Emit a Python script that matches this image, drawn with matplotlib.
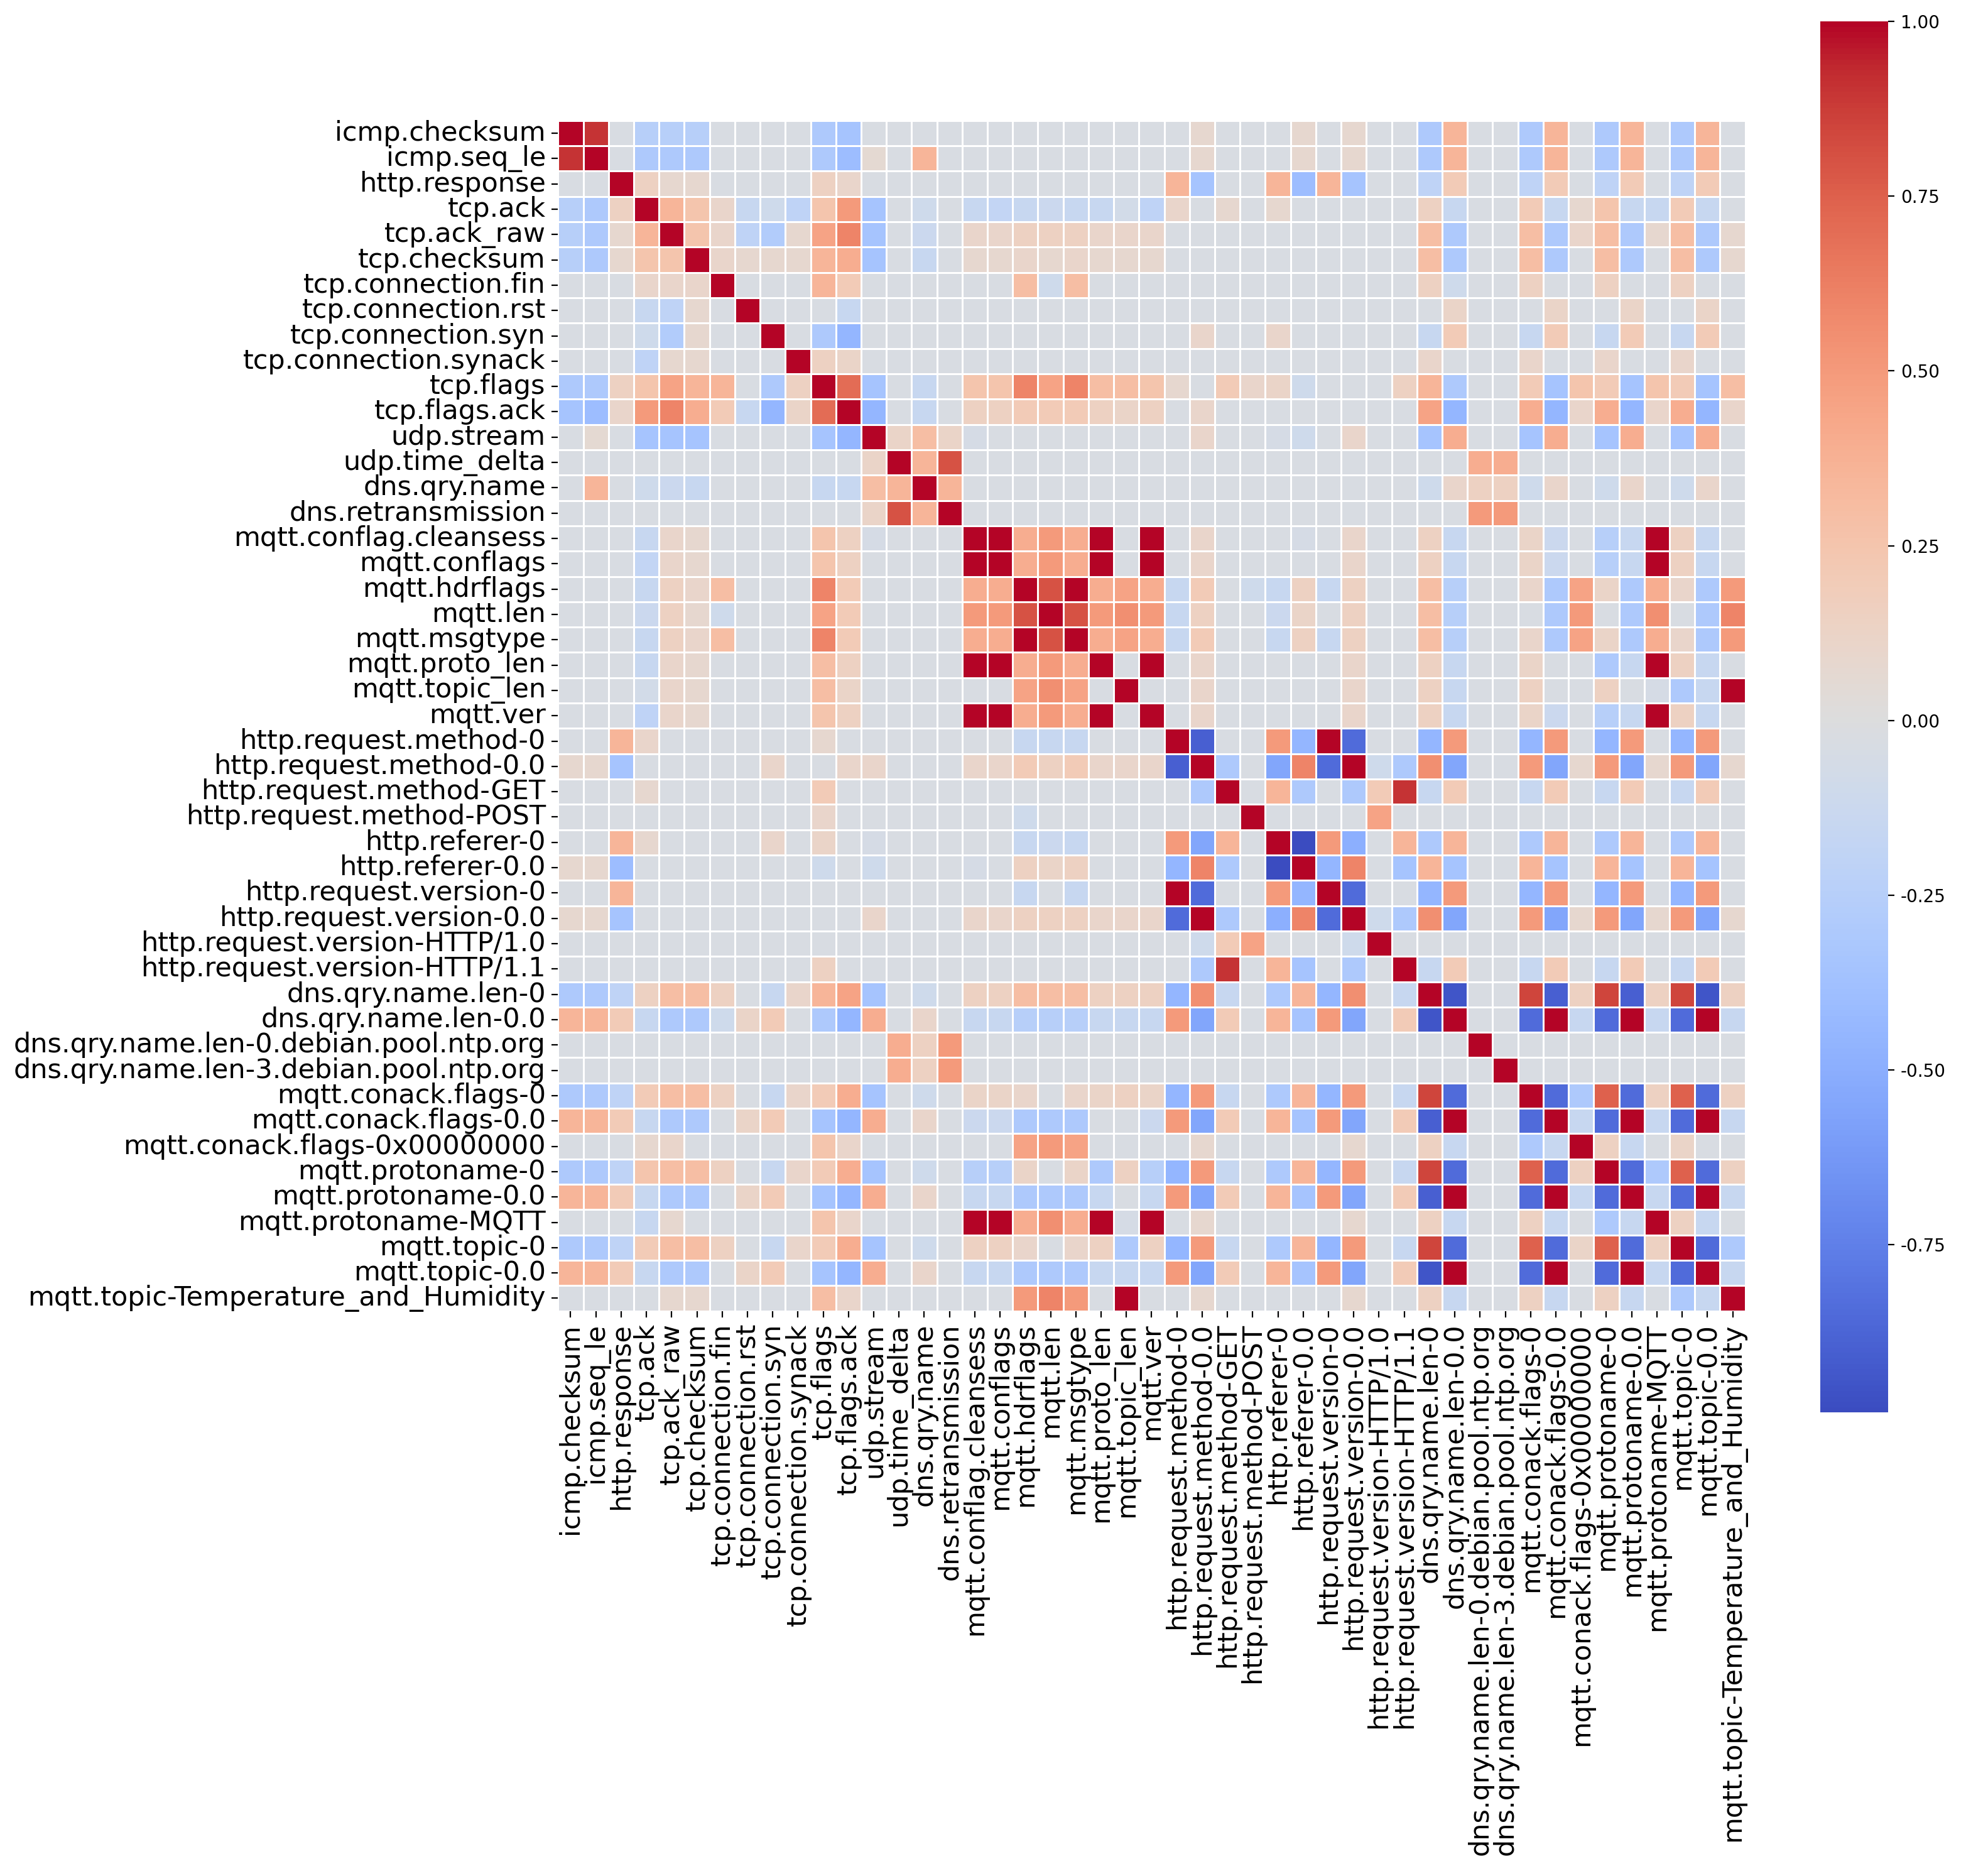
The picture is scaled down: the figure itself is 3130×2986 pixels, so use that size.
import numpy as np
import seaborn as sns
from matplotlib import pyplot as plt

labels = [
    "icmp.checksum", "icmp.seq_le", "http.response", "tcp.ack", "tcp.ack_raw",
    "tcp.checksum", "tcp.connection.fin", "tcp.connection.rst", "tcp.connection.syn",
    "tcp.connection.synack", "tcp.flags", "tcp.flags.ack", "udp.stream",
    "udp.time_delta", "dns.qry.name", "dns.retransmission", "mqtt.conflag.cleansess",
    "mqtt.conflags", "mqtt.hdrflags", "mqtt.len", "mqtt.msgtype", "mqtt.proto_len",
    "mqtt.topic_len", "mqtt.ver", "http.request.method-0", "http.request.method-0.0",
    "http.request.method-GET", "http.request.method-POST", "http.referer-0",
    "http.referer-0.0", "http.request.version-0", "http.request.version-0.0",
    "http.request.version-HTTP/1.0", "http.request.version-HTTP/1.1",
    "dns.qry.name.len-0", "dns.qry.name.len-0.0",
    "dns.qry.name.len-0.debian.pool.ntp.org", "dns.qry.name.len-3.debian.pool.ntp.org",
    "mqtt.conack.flags-0", "mqtt.conack.flags-0.0", "mqtt.conack.flags-0x00000000",
    "mqtt.protoname-0", "mqtt.protoname-0.0", "mqtt.protoname-MQTT", "mqtt.topic-0",
    "mqtt.topic-0.0", "mqtt.topic-Temperature_and_Humidity",
]

# estimated correlations (upper triangle), everything else ~0
row_0 = [(1, 0.9), (3, -0.25), (4, -0.25), (5, -0.25), (10, -0.3), (11, -0.35), (25, 0.08), (29, 0.08), (31, 0.08),
         (34, -0.3), (35, 0.35), (38, -0.3), (39, 0.35), (41, -0.3), (42, 0.35), (44, -0.3), (45, 0.35)]
row_1 = [(3, -0.3), (4, -0.3), (5, -0.3), (10, -0.3), (11, -0.4), (12, 0.06), (14, 0.35), (25, 0.08), (29, 0.08),
         (31, 0.08), (34, -0.3), (35, 0.35), (38, -0.3), (39, 0.35), (41, -0.3), (42, 0.35), (44, -0.3), (45, 0.35)]
row_2 = [(3, 0.15), (4, 0.08), (5, 0.08), (10, 0.15), (11, 0.1), (24, 0.35), (25, -0.35), (28, 0.35), (29, -0.4),
         (30, 0.35), (31, -0.35), (34, -0.2), (35, 0.2), (38, -0.2), (39, 0.2), (41, -0.2), (42, 0.2),
         (44, -0.2), (45, 0.2)]
row_3 = [(4, 0.35), (5, 0.25), (6, 0.1), (7, -0.15), (8, -0.1), (9, -0.2), (10, 0.25), (11, 0.5), (12, -0.35),
         (14, -0.1), (16, -0.15), (17, -0.18), (18, -0.15), (19, -0.12), (20, -0.15), (21, -0.15), (22, -0.08),
         (23, -0.2), (24, 0.1), (26, 0.08), (28, 0.08), (34, 0.15), (35, -0.15), (38, 0.2), (39, -0.15), (40, 0.08),
         (41, 0.25), (42, -0.15), (43, -0.15), (44, 0.2), (45, -0.15)]
row_4 = [(5, 0.25), (6, 0.1), (7, -0.2), (8, -0.28), (9, 0.08), (10, 0.45), (11, 0.6), (12, -0.35), (14, -0.12),
         (16, 0.1), (17, 0.1), (18, 0.15), (19, 0.15), (20, 0.15), (21, 0.1), (22, 0.1), (23, 0.1),
         (34, 0.3), (35, -0.3), (38, 0.3), (39, -0.3), (40, 0.1), (41, 0.3), (42, -0.3), (43, 0.08),
         (44, 0.3), (45, -0.3), (46, 0.08)]
row_5 = [(6, 0.1), (7, 0.08), (8, 0.08), (9, 0.08), (10, 0.35), (11, 0.4), (12, -0.35), (14, -0.15),
         (16, 0.08), (17, 0.08), (18, 0.1), (19, 0.08), (20, 0.1), (21, 0.08), (22, 0.08), (23, 0.08),
         (34, 0.3), (35, -0.3), (38, 0.3), (39, -0.3), (41, 0.3), (42, -0.3), (44, 0.3), (45, -0.3), (46, 0.08)]
row_6 = [(10, 0.35), (11, 0.2), (18, 0.3), (19, -0.1), (20, 0.3), (34, 0.15), (35, -0.1), (38, 0.15),
         (41, 0.15), (44, 0.15)]
row_7 = [(11, -0.15), (35, 0.12), (39, 0.12), (42, 0.12), (45, 0.12)]
row_8 = [(10, -0.3), (11, -0.45), (25, 0.1), (28, 0.1), (34, -0.15), (35, 0.2), (38, -0.15), (39, 0.2),
         (41, -0.15), (42, 0.2), (44, -0.15), (45, 0.2)]
row_9 = [(10, 0.15), (11, 0.12), (34, 0.1), (38, 0.1), (41, 0.1), (44, 0.1)]
row_10 = [(11, 0.7), (12, -0.35), (14, -0.15), (16, 0.25), (17, 0.25), (18, 0.6), (19, 0.45), (20, 0.6),
          (21, 0.3), (22, 0.3), (23, 0.25), (24, 0.08), (26, 0.2), (27, 0.1), (28, 0.12), (29, -0.1),
          (33, 0.15), (34, 0.35), (35, -0.3), (38, 0.2), (39, -0.35), (40, 0.25), (41, 0.2), (42, -0.35),
          (43, 0.25), (44, 0.2), (45, -0.35), (46, 0.3)]
row_11 = [(12, -0.45), (14, -0.15), (16, 0.15), (17, 0.15), (18, 0.2), (19, 0.2), (20, 0.2), (21, 0.15),
          (22, 0.12), (23, 0.15), (25, 0.1), (34, 0.45), (35, -0.45), (38, 0.4), (39, -0.45), (40, 0.1),
          (41, 0.4), (42, -0.45), (43, 0.1), (44, 0.4), (45, -0.45), (46, 0.1)]
row_12 = [(13, 0.12), (14, 0.3), (15, 0.12), (16, -0.05), (25, 0.1), (28, -0.05), (29, -0.1), (31, 0.1),
          (34, -0.35), (35, 0.4), (38, -0.35), (39, 0.4), (41, -0.35), (42, 0.4), (44, -0.35), (45, 0.4)]
row_13 = [(14, 0.35), (15, 0.8), (36, 0.4), (37, 0.4)]
row_14 = [(15, 0.35), (34, -0.1), (35, 0.1), (36, 0.15), (37, 0.15), (38, -0.1), (39, 0.1),
          (41, -0.1), (42, 0.1), (44, -0.1), (45, 0.1)]
row_15 = [(36, 0.5), (37, 0.5)]
row_16 = [(17, 1.0), (18, 0.4), (19, 0.5), (20, 0.4), (21, 1.0), (23, 1.0), (25, 0.1), (29, -0.05), (31, 0.1),
          (34, 0.15), (35, -0.15), (38, 0.12), (39, -0.12), (41, -0.25), (42, -0.15), (43, 1.0),
          (44, 0.15), (45, -0.15)]
row_17 = [(18, 0.4), (19, 0.5), (20, 0.4), (21, 1.0), (23, 1.0), (25, 0.1), (31, 0.1), (34, 0.15),
          (35, -0.15), (38, 0.12), (39, -0.12), (41, -0.25), (42, -0.15), (43, 1.0), (44, 0.15), (45, -0.15)]
row_18 = [(19, 0.8), (20, 1.0), (21, 0.4), (22, 0.45), (23, 0.4), (24, -0.15), (25, 0.2), (27, -0.1),
          (28, -0.15), (29, 0.15), (30, -0.15), (31, 0.15), (34, 0.3), (35, -0.25), (38, 0.1), (39, -0.3),
          (40, 0.45), (41, 0.12), (42, -0.3), (43, 0.4), (44, 0.1), (45, -0.3), (46, 0.5)]
row_19 = [(20, 0.8), (21, 0.5), (22, 0.55), (23, 0.5), (24, -0.15), (25, 0.15), (28, -0.12), (29, 0.12),
          (31, 0.15), (34, 0.3), (35, -0.25), (39, -0.3), (40, 0.5), (42, -0.3), (43, 0.55), (45, -0.3),
          (46, 0.6)]
row_20 = [(21, 0.4), (22, 0.45), (23, 0.4), (24, -0.15), (25, 0.2), (28, -0.15), (29, 0.15), (30, -0.15),
          (31, 0.15), (34, 0.3), (35, -0.25), (38, 0.1), (39, -0.3), (40, 0.45), (41, 0.12), (42, -0.3),
          (43, 0.4), (44, 0.1), (45, -0.3), (46, 0.5)]
row_21 = [(23, 1.0), (25, 0.1), (31, 0.1), (34, 0.15), (35, -0.15), (38, 0.12), (41, -0.3), (42, -0.15),
          (43, 1.0), (44, 0.15), (45, -0.15)]
row_22 = [(25, 0.1), (31, 0.1), (34, 0.15), (35, -0.15), (38, 0.15), (41, 0.15), (43, -0.05), (44, -0.3),
          (45, -0.15), (46, 1.0)]
row_23 = [(25, 0.1), (31, 0.1), (34, 0.15), (35, -0.15), (38, 0.12), (39, -0.12), (41, -0.25), (42, -0.15),
          (43, 1.0), (44, 0.15), (45, -0.15)]
row_24 = [(25, -0.9), (28, 0.5), (29, -0.45), (30, 1.0), (31, -0.85), (34, -0.45), (35, 0.5), (38, -0.45),
          (39, 0.5), (41, -0.45), (42, 0.5), (44, -0.45), (45, 0.5)]
row_25 = [(26, -0.3), (28, -0.55), (29, 0.6), (30, -0.85), (31, 1.0), (32, -0.1), (33, -0.3), (34, 0.55),
          (35, -0.55), (38, 0.5), (39, -0.55), (40, 0.08), (41, 0.5), (42, -0.55), (43, 0.08), (44, 0.5),
          (45, -0.55), (46, 0.08)]
row_26 = [(28, 0.35), (29, -0.3), (31, -0.3), (32, 0.2), (33, 0.9), (34, -0.15), (35, 0.2), (38, -0.15),
          (39, 0.2), (41, -0.15), (42, 0.2), (44, -0.15), (45, 0.2)]
row_27 = [(32, 0.45)]
row_28 = [(29, -1.0), (30, 0.5), (31, -0.5), (33, 0.35), (34, -0.3), (35, 0.35), (38, -0.3), (39, 0.35),
          (41, -0.3), (42, 0.35), (44, -0.3), (45, 0.35)]
row_29 = [(30, -0.45), (31, 0.6), (33, -0.35), (34, 0.35), (35, -0.35), (38, 0.35), (39, -0.35),
          (41, 0.35), (42, -0.35), (44, 0.35), (45, -0.35)]
row_30 = [(31, -0.85), (34, -0.45), (35, 0.5), (38, -0.45), (39, 0.5), (41, -0.45), (42, 0.5),
          (44, -0.45), (45, 0.5)]
row_31 = [(32, -0.1), (33, -0.3), (34, 0.55), (35, -0.55), (38, 0.5), (39, -0.55), (40, 0.08), (41, 0.5),
          (42, -0.55), (43, 0.08), (44, 0.5), (45, -0.55), (46, 0.08)]
row_33 = [(34, -0.15), (35, 0.2), (38, -0.15), (39, 0.2), (41, -0.15), (42, 0.2), (44, -0.15), (45, 0.2)]
row_34 = [(35, -0.95), (38, 0.85), (39, -0.9), (40, 0.15), (41, 0.85), (42, -0.9), (43, 0.15), (44, 0.85),
          (45, -0.95), (46, 0.15)]
row_35 = [(38, -0.85), (39, 1.0), (40, -0.15), (41, -0.85), (42, 1.0), (43, -0.15), (44, -0.85),
          (45, 1.0), (46, -0.15)]
row_38 = [(39, -0.85), (40, -0.3), (41, 0.75), (42, -0.85), (43, 0.15), (44, 0.75), (45, -0.85), (46, 0.15)]
row_39 = [(40, -0.15), (41, -0.85), (42, 1.0), (43, -0.15), (44, -0.85), (45, 1.0), (46, -0.15)]
row_40 = [(41, 0.15), (42, -0.15), (44, 0.12)]
row_41 = [(42, -0.85), (43, -0.3), (44, 0.75), (45, -0.85), (46, 0.15)]
row_42 = [(43, -0.15), (44, -0.85), (45, 1.0), (46, -0.15)]
row_43 = [(44, 0.15), (45, -0.15)]
row_44 = [(45, -0.85), (46, -0.3)]
row_45 = [(46, -0.15)]

rows = {0: row_0, 1: row_1, 2: row_2, 3: row_3, 4: row_4, 5: row_5, 6: row_6, 7: row_7, 8: row_8,
        9: row_9, 10: row_10, 11: row_11, 12: row_12, 13: row_13, 14: row_14, 15: row_15, 16: row_16,
        17: row_17, 18: row_18, 19: row_19, 20: row_20, 21: row_21, 22: row_22, 23: row_23, 24: row_24,
        25: row_25, 26: row_26, 27: row_27, 28: row_28, 29: row_29, 30: row_30, 31: row_31, 33: row_33,
        34: row_34, 35: row_35, 38: row_38, 39: row_39, 40: row_40, 41: row_41, 42: row_42, 43: row_43,
        44: row_44, 45: row_45}

n = len(labels)
corr = np.full((n, n), -0.03)
np.fill_diagonal(corr, 1.0)
for i, entries in rows.items():
    for j, v in entries:
        corr[i, j] = v
        corr[j, i] = v

fig = plt.figure(figsize=(15.65, 14.93), dpi=200)
ax = fig.add_axes([445 / 1568, 1 - 1044 / 1494, 947 / 1568, 948 / 1494])
cax = fig.add_axes([1452 / 1568, 1 - 1125 / 1494, 54 / 1568, 1108 / 1494])
sns.heatmap(corr, ax=ax, cbar_ax=cax, cmap="coolwarm", vmax=1.0, vmin=-0.99,
            linewidths=0.5, linecolor="white", xticklabels=labels, yticklabels=labels)
ax.set_xticklabels(labels, rotation=90, fontsize=15.5)
ax.set_yticklabels(labels, rotation=0, fontsize=15.5)
cax.set_yticks([1.0, 0.75, 0.5, 0.25, 0.0, -0.25, -0.5, -0.75])
cax.set_yticklabels(["1.00", "0.75", "0.50", "0.25", "0.00", "-0.25", "-0.50", "-0.75"])
cax.tick_params(labelsize=10)
fig.savefig("out.png", dpi=200)
